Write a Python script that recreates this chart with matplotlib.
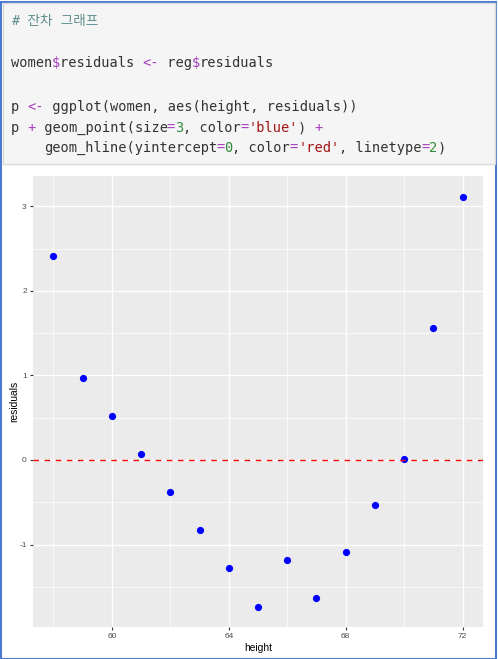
import matplotlib
matplotlib.use("Agg")
import matplotlib.pyplot as plt
from matplotlib.patches import Rectangle
import numpy as np

plt.rcParams["axes.unicode_minus"] = False

# ---- data ----
height = [58, 59, 60, 61, 62, 63, 64, 65, 66, 67, 68, 69, 70, 71, 72]
residuals = [2.4167, 0.9667, 0.5167, 0.0667, -0.3833, -0.8333, -1.2833,
             -1.7333, -1.1833, -1.6333, -1.0833, -0.5333, 0.0167, 1.5667, 3.1167]
x_ticks = [60, 64, 68, 72]
y_ticks = [-1, 0, 1, 2, 3]

W, H = 498, 659
fig = plt.figure(figsize=(W / 100, H / 100), dpi=100)
fig.patch.set_facecolor("white")

def px(x, y):
    return x / W, 1 - y / H

# outer blue border
fig.patches.append(Rectangle((0.5 / W, 0.5 / H), (W - 3) / W, (H - 2.5) / H,
                             transform=fig.transFigure, fill=False,
                             edgecolor="#4a7bd0", lw=1.5))
# code block
fig.patches.append(Rectangle(px(3, 164), (492) / W, (161) / H,
                             transform=fig.transFigure, facecolor="#f5f5f5",
                             edgecolor="#d9d9d9", lw=1.0))

# ---- code text ----
CW = 8.2  # char width px
FS = CW / (0.6021 * 100 / 72)
DEF = "#333333"
OP = "#a63fc0"
NUM = "#2e8b3a"
STR = "#a31515"
X0 = 11

def code_line(y, tokens, x0=X0):
    n = 0
    for txt, col in tokens:
        fig.text(*px(x0 + n * CW, y), txt, color=col, fontsize=FS,
                 family=["DejaVu Sans Mono"], va="center", ha="left")
        n += len(txt)

fig.text(*px(X0, 21), "# 잔차 그래프", color="#5f8f8f", fontsize=FS,
         family=["DejaVu Sans Mono", "Noto Sans CJK KR"], style="italic",
         va="center", ha="left")
code_line(63, [("women", DEF), ("$", OP), ("residuals ", DEF), ("<-", OP),
               (" reg", DEF), ("$", OP), ("residuals", DEF)])
code_line(107, [("p ", DEF), ("<-", OP), (" ggplot(women, aes(height, residuals))", DEF)])
code_line(128, [("p ", DEF), ("+", OP), (" geom_point(size", DEF), ("=", OP),
                ("3", NUM), (", color", DEF), ("=", OP), ("'blue'", STR),
                (") ", DEF), ("+", OP)])
code_line(148, [("geom_hline(yintercept", DEF), ("=", OP), ("0", NUM),
                (", color", DEF), ("=", OP), ("'red'", STR),
                (", linetype", DEF), ("=", OP), ("2", NUM), (")", DEF)],
          x0=X0 + 4 * CW)

# ---- chart ----
L, T, R, B = 33, 176, 483, 627
ax = fig.add_axes([L / W, 1 - B / H, (R - L) / W, (B - T) / H])
ax.set_facecolor("#EBEBEB")
for s in ax.spines.values():
    s.set_visible(False)

xr = max(height) - min(height)
yr = max(residuals) - min(residuals)
ax.set_xlim(min(height) - 0.05 * xr, max(height) + 0.05 * xr)
ax.set_ylim(min(residuals) - 0.05 * yr, max(residuals) + 0.05 * yr)

ax.set_xticks(x_ticks)
ax.set_yticks(y_ticks)
ax.set_xticks([58, 62, 66, 70], minor=True)
ax.set_yticks([-1.5, -0.5, 0.5, 1.5, 2.5], minor=True)
ax.grid(True, which="major", color="white", lw=1.0)
ax.grid(True, which="minor", color="white", lw=0.5)
ax.set_axisbelow(True)
ax.tick_params(which="major", length=2.5, width=0.8, color="#333333",
               labelsize=6, labelcolor="#4d4d4d", pad=2)
ax.tick_params(which="minor", length=0)
for lab in ax.get_xticklabels() + ax.get_yticklabels():
    lab.set_family("Liberation Sans")

ax.scatter(height, residuals, s=5.2 ** 2, color="blue", zorder=3, linewidths=0)
ax.axhline(0, color="red", lw=1.0, ls=(0, (4, 4)), zorder=4)

ax.set_xlabel("height", fontsize=7.4, family="Liberation Sans", color="black", labelpad=2)
ax.set_ylabel("residuals", fontsize=7.4, family="Liberation Sans", color="black", labelpad=0)

fig.savefig("out.png", dpi=100)
